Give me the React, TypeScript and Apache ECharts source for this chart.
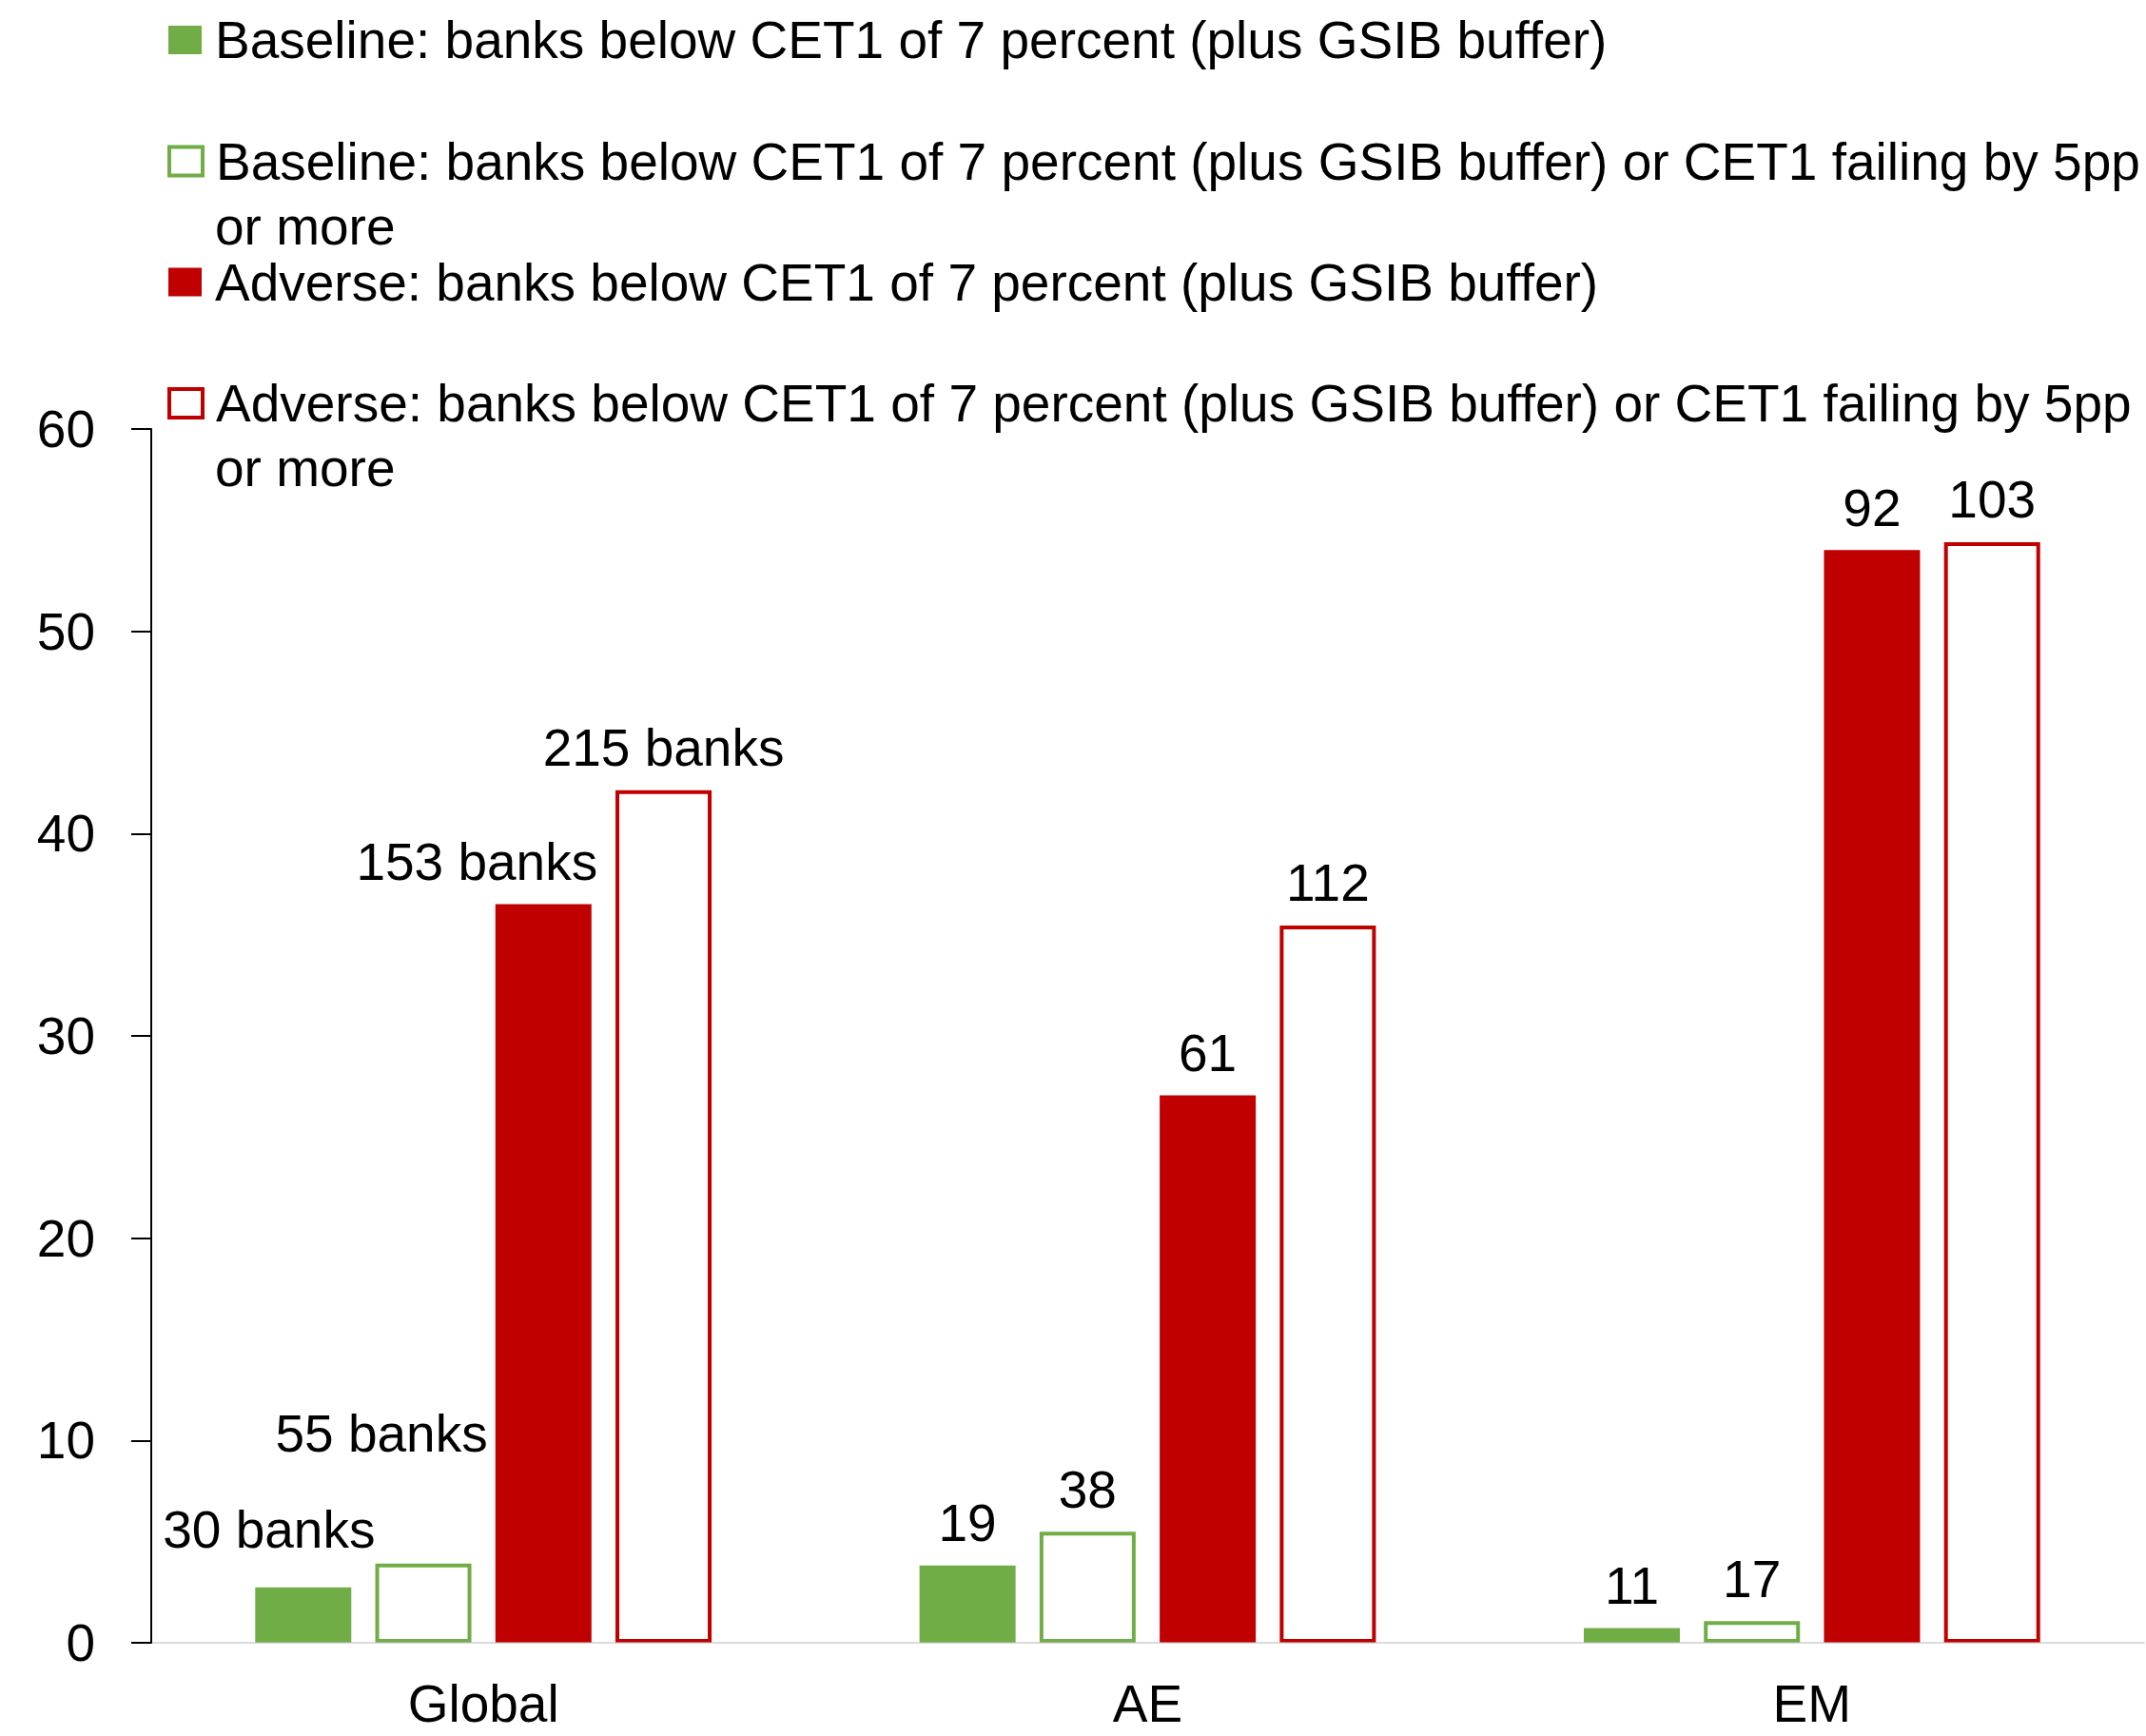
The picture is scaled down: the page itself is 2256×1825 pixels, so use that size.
import React, { useEffect, useRef } from "react";
import * as echarts from "echarts";

// Categories and series
const categories = ["Global", "AE", "EM"];

const seriesNames = [
  "Baseline: banks below CET1 of 7 percent (plus GSIB buffer)",
  "Baseline: banks below CET1 of 7 percent (plus GSIB buffer) or CET1 failing by 5pp or more",
  "Adverse: banks below CET1 of 7 percent (plus GSIB buffer)",
  "Adverse: banks below CET1 of 7 percent (plus GSIB buffer) or CET1 failing by 5pp or more",
];

// Share of banks (percent)
const baselineShare = [2.74, 3.82, 0.73];
const baselineWideShare = [3.92, 5.49, 1.07];
const adverseShare = [36.51, 27.06, 54.02];
const adverseWideShare = [42.14, 35.46, 54.41];

// Number of banks shown above each bar
const baselineLabels = ["30 banks", "19", "11"];
const baselineWideLabels = ["55 banks", "38", "17"];
const adverseLabels = ["153 banks", "61", "92"];
const adverseWideLabels = ["215 banks", "112", "103"];

// Value axis
const yMin = 0;
const yMax = 60;
const yInterval = 10;

const GREEN = "#70ad47";
const RED = "#c00000";
const FONT = "'Liberation Sans', Arial, Helvetica, sans-serif";
const FS = 55;

// Hand-placed label shifts for the Global group
const globalLabelShift: number[][] = [
  [-36, -16],
  [-44, -92],
  [-70, 0],
  [0, 0],
];

export default function App() {
  const ref = useRef<HTMLDivElement>(null);

  useEffect(() => {
    if (!ref.current) return;
    const chart = echarts.init(ref.current, undefined, { renderer: "svg" });

    const values = [baselineShare, baselineWideShare, adverseShare, adverseWideShare];
    const labels = [baselineLabels, baselineWideLabels, adverseLabels, adverseWideLabels];
    const styles = [
      { color: GREEN },
      { color: "#ffffff", borderColor: GREEN, borderWidth: 4 },
      { color: RED },
      { color: "#ffffff", borderColor: RED, borderWidth: 4 },
    ];

    const series = values.map((vals, si) => ({
      type: "bar",
      name: seriesNames[si],
      barWidth: 101,
      barGap: "25%",
      itemStyle: styles[si],
      label: {
        show: true,
        position: "top",
        distance: 17,
        fontSize: FS,
        fontFamily: FONT,
        color: "#000",
        lineHeight: FS,
        formatter: (p: any) => labels[si][p.dataIndex],
      },
      data: vals.map((v, di) =>
        di === 0
          ? { value: v, label: { offset: globalLabelShift[si] } }
          : { value: v }
      ),
    }));

    const legendTops = [14.5, 142, 269, 396.5];
    const legendLefts = [177, 176, 177, 176];
    const legendItemStyles = [
      { color: GREEN, borderWidth: 0 },
      { color: "#ffffff", borderColor: GREEN, borderWidth: 4 },
      { color: RED, borderWidth: 0 },
      { color: "#ffffff", borderColor: RED, borderWidth: 4 },
    ];

    const legend = seriesNames.map((name, i) => ({
      data: [name],
      orient: "vertical",
      left: legendLefts[i],
      top: legendTops[i],
      padding: 0,
      itemWidth: 35,
      itemHeight: 30,
      icon: "rect",
      selectedMode: false,
      itemStyle: legendItemStyles[i],
      formatter: (n: string) => n.replace(/ or more$/, ""),
      textStyle: {
        fontSize: FS,
        fontFamily: FONT,
        color: "#000",
        lineHeight: FS,
        padding: [0, 0, 0, 9],
      },
    }));

    chart.setOption({
      animation: false,
      backgroundColor: "#ffffff",
      textStyle: { fontFamily: FONT },
      legend,
      graphic: [
        {
          type: "text",
          x: 226,
          y: 237.5,
          style: { text: "or more", fontSize: FS, fontFamily: FONT, fill: "#000", verticalAlign: "middle" },
        },
        {
          type: "text",
          x: 226,
          y: 492,
          style: { text: "or more", fontSize: FS, fontFamily: FONT, fill: "#000", verticalAlign: "middle" },
        },
      ],
      grid: { left: 159, right: 2, top: 451, bottom: 98, containLabel: false },
      xAxis: {
        type: "category",
        data: categories,
        z: 3,
        axisLine: { show: true, lineStyle: { color: "rgba(190,190,190,0.55)", width: 2 } },
        axisTick: { show: false },
        axisLabel: { fontSize: FS, fontFamily: FONT, color: "#000", margin: 41, lineHeight: 46 },
      },
      yAxis: {
        type: "value",
        min: yMin,
        max: yMax,
        interval: yInterval,
        z: 4,
        axisLine: { show: true, lineStyle: { color: "#000", width: 2 } },
        axisTick: { show: true, length: 21, lineStyle: { color: "#000", width: 2 } },
        splitLine: { show: false },
        axisLabel: { fontSize: FS, fontFamily: FONT, color: "#000", margin: 59 },
      },
      series,
    });

    return () => chart.dispose();
  }, []);

  return (
    <div
      ref={ref}
      style={{ position: "fixed", left: 0, top: 0, width: 2256, height: 1825, background: "#fff" }}
    />
  );
}
